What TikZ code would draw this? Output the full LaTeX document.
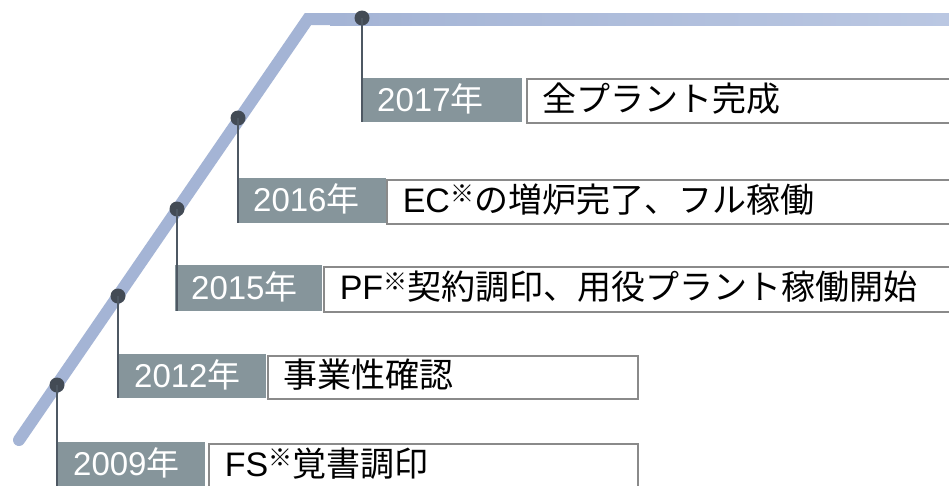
\documentclass[tikz,border=0pt]{standalone}
\usepackage{fontspec}
\setmainfont{Liberation Sans}
\newfontfamily\jp{Noto Sans CJK JP}
\definecolor{bandcol}{RGB}{164,180,213}
\definecolor{bandlight}{RGB}{186,199,226}
\definecolor{yearfill}{RGB}{134,149,155}
\definecolor{dotcol}{RGB}{67,75,85}
\definecolor{vcol}{RGB}{78,88,99}
\definecolor{boxline}{RGB}{138,138,138}
\newcommand{\kome}{\raisebox{0.28em}{\jp\fontsize{24}{24}\selectfont ※}}
\begin{document}
\begin{tikzpicture}[x=1pt,y=-1pt,
  band/.style={draw=bandcol, line width=12pt, line cap=round, line join=miter},
  dotnode/.style={circle, fill=dotcol, minimum size=15pt, inner sep=0pt},
  vline/.style={draw=vcol, line width=2.3pt},
  yearbox/.style={fill=yearfill, anchor=north west, inner ysep=0pt, inner xsep=16pt,
    align=left, text=white, text height=25pt, text depth=3pt,
    font=\fontsize{33}{36}\selectfont},
  descbox/.style={draw=boxline, line width=1.6pt, fill=white, anchor=north west,
    inner ysep=0pt, inner xsep=16pt, align=left, text=black,
    text height=25pt, text depth=4pt, font=\fontsize{34}{38}\selectfont}
]
\useasboundingbox (0,0) rectangle (949,485);
\clip (0,0) rectangle (949,485);
\fill[white] (0,0) rectangle (949,485);

\draw[band] (19,440) -- (308,19) -- (970,19);
\shade[left color=bandcol, right color=bandlight] (330,13) rectangle (949,25);

% description boxes
\node[descbox, minimum width=450pt, text width=418pt, minimum height=44pt] (t5) at (526,78) {{\jp 全プラント完成}};
\node[descbox, minimum width=590pt, text width=558pt, minimum height=44pt] (t4) at (386,179) {EC\kome{\jp の増炉完了、フル稼働}};
\node[descbox, minimum width=650pt, text width=618pt, minimum height=45pt] (t3) at (323,266) {PF\kome{\jp 契約調印、用役プラント稼働開始}};
\node[descbox, minimum width=370pt, text width=338pt, minimum height=43pt] (t2) at (267,355) {{\jp 事業性確認}};
\node[descbox, minimum width=429pt, text width=397pt, minimum height=44pt] (t1) at (208,443) {FS\kome{\jp 覚書調印}};

% year boxes
\node[yearbox, minimum width=161pt, text width=129pt, minimum height=44pt] (y5) at (361,78) {2017{\jp 年}};
\node[yearbox, minimum width=149pt, text width=117pt, minimum height=45pt] (y4) at (237,178) {2016{\jp 年}};
\node[yearbox, minimum width=147pt, text width=115pt, minimum height=46pt] (y3) at (175,265) {2015{\jp 年}};
\node[yearbox, minimum width=148pt, text width=116pt, minimum height=44pt] (y2) at (118,354) {2012{\jp 年}};
\node[yearbox, minimum width=148pt, text width=116pt, minimum height=44pt] (y1) at (57,442) {2009{\jp 年}};

% dots
\node[dotnode] (d1) at (57,385) {};
\node[dotnode] (d2) at (118,296) {};
\node[dotnode] (d3) at (177,209) {};
\node[dotnode] (d4) at (238,118) {};
\node[dotnode] (d5) at (362,18) {};

% connectors
\draw[vline] (d1.center) -- (d1.center |- y1.south);
\draw[vline] (d2.center) -- (d2.center |- y2.south);
\draw[vline] (d3.center) -- (d3.center |- y3.south);
\draw[vline] (d4.center) -- (d4.center |- y4.south);
\draw[vline] (d5.center) -- (d5.center |- y5.south);
\end{tikzpicture}
\end{document}
